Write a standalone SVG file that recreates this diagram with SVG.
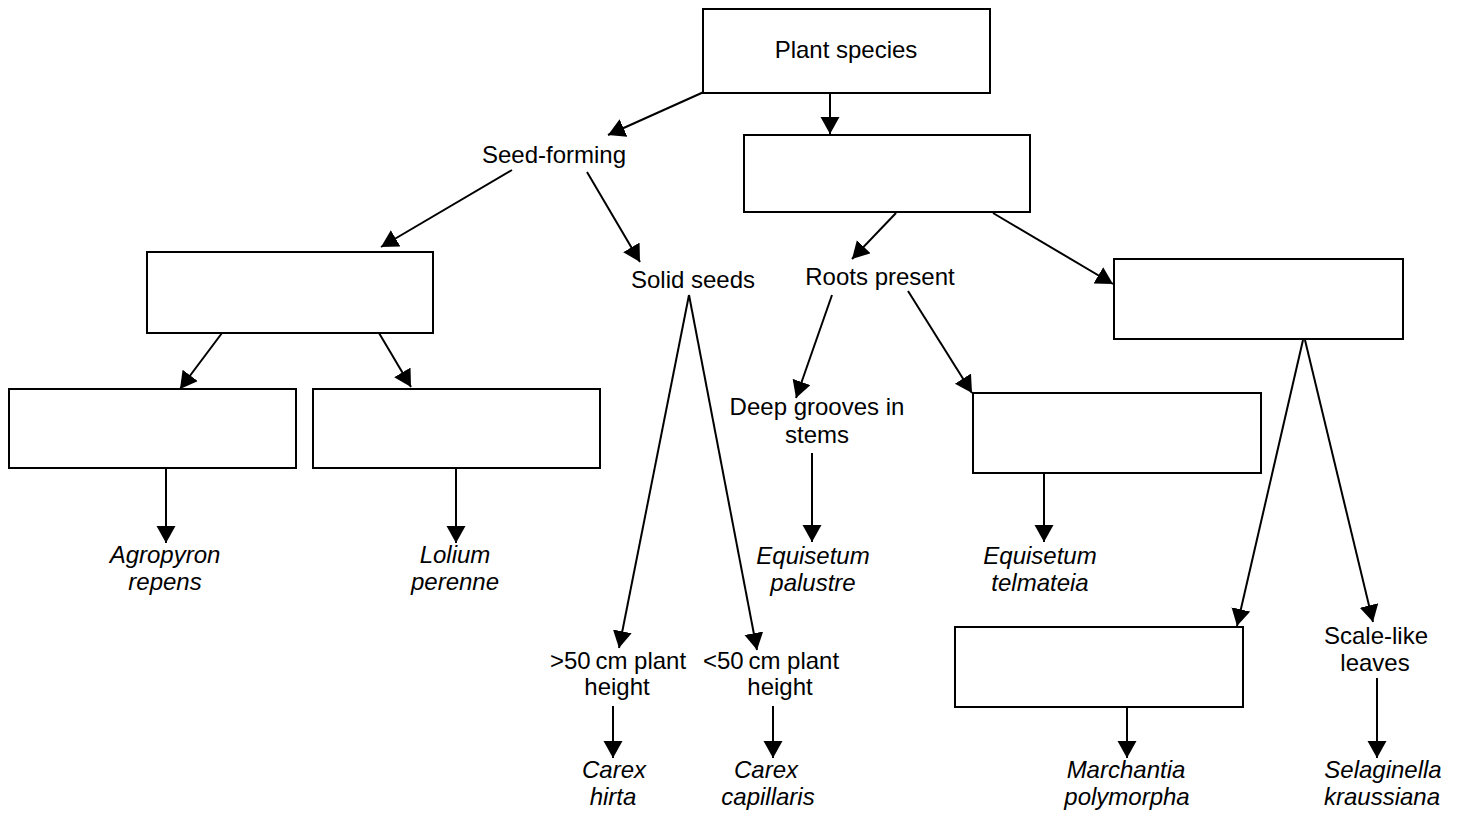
<svg xmlns="http://www.w3.org/2000/svg" width="1463" height="814" viewBox="0 0 1463 814">
<defs>
<marker id="ah" markerUnits="userSpaceOnUse" markerWidth="20" markerHeight="20" refX="17" refY="9.5" orient="auto">
<path d="M0,0 L17,9.5 L0,19 z" fill="#000"/>
</marker>
<style>
.box{fill:#fff;stroke:#000;stroke-width:2}
.t{font-family:"Liberation Sans",Arial,sans-serif;font-size:24px;fill:#000;text-anchor:middle}
.i{font-style:italic}
.c{stroke:#000;stroke-width:2;fill:none;marker-end:url(#ah)}
</style>
</defs>
<rect width="1463" height="814" fill="#fff"/>
<g id="connectors">
<line class="c" x1="706" y1="91" x2="608" y2="135"/>
<line class="c" x1="830" y1="93" x2="830" y2="134"/>
<line class="c" x1="512" y1="170" x2="381" y2="247"/>
<line class="c" x1="587" y1="172" x2="640" y2="262"/>
<line class="c" x1="222" y1="333" x2="180" y2="389"/>
<line class="c" x1="379" y1="333" x2="411" y2="387"/>
<line class="c" x1="166" y1="468" x2="166" y2="543"/>
<line class="c" x1="456" y1="468" x2="456" y2="543"/>
<line class="c" x1="689" y1="295" x2="619" y2="648"/>
<line class="c" x1="689" y1="295" x2="757" y2="650"/>
<line class="c" x1="613" y1="706" x2="613" y2="758"/>
<line class="c" x1="773" y1="706" x2="773" y2="758"/>
<line class="c" x1="896" y1="213" x2="852" y2="259"/>
<line class="c" x1="993" y1="213" x2="1113" y2="284"/>
<line class="c" x1="832" y1="295" x2="796" y2="398"/>
<line class="c" x1="908" y1="291" x2="972" y2="393"/>
<line class="c" x1="812" y1="453" x2="812" y2="542"/>
<line class="c" x1="1044" y1="473" x2="1044" y2="542"/>
<line class="c" x1="1303" y1="340" x2="1237" y2="626"/>
<line class="c" x1="1305" y1="340" x2="1373" y2="622"/>
<line class="c" x1="1127" y1="707" x2="1127" y2="758"/>
<line class="c" x1="1377" y1="678" x2="1377" y2="758"/>
</g>
<g id="n-plant"><rect class="box" x="703" y="9" width="287" height="84"/><text class="t" x="846" y="58">Plant species</text></g>
<g id="n-mid"><rect class="box" x="744" y="135" width="286" height="77"/></g>
<g id="n-seedbox"><rect class="box" x="147" y="252" width="286" height="81"/></g>
<g id="n-agrobox"><rect class="box" x="9" y="389" width="287" height="79"/></g>
<g id="n-loliumbox"><rect class="box" x="313" y="389" width="287" height="79"/></g>
<g id="n-rightbox"><rect class="box" x="1114" y="259" width="289" height="80"/></g>
<g id="n-telmbox"><rect class="box" x="973" y="393" width="288" height="80"/></g>
<g id="n-marchbox"><rect class="box" x="955" y="627" width="288" height="80"/></g>
<g id="n-seedforming"><text class="t" x="554" y="163">Seed-forming</text></g>
<g id="n-solid"><text class="t" x="693" y="288">Solid seeds</text></g>
<g id="n-roots"><text class="t" x="880" y="285">Roots present</text></g>
<g id="n-deep"><text class="t" x="817" y="415">Deep grooves in</text><text class="t" x="817" y="443">stems</text></g>
<g id="n-gt50"><text class="t" x="618" y="669">&gt;50&#8201;cm plant</text><text class="t" x="617" y="695">height</text></g>
<g id="n-lt50"><text class="t" x="771" y="669">&lt;50&#8201;cm plant</text><text class="t" x="780" y="695">height</text></g>
<g id="n-scale"><text class="t" x="1376" y="644">Scale-like</text><text class="t" x="1375" y="671">leaves</text></g>
<g id="n-agro"><text class="t i" x="165" y="563">Agropyron</text><text class="t i" x="165" y="590">repens</text></g>
<g id="n-lolium"><text class="t i" x="455" y="563">Lolium</text><text class="t i" x="455" y="590">perenne</text></g>
<g id="n-palustre"><text class="t i" x="813" y="564">Equisetum</text><text class="t i" x="813" y="591">palustre</text></g>
<g id="n-telm"><text class="t i" x="1040" y="564">Equisetum</text><text class="t i" x="1040" y="591">telmateia</text></g>
<g id="n-hirta"><text class="t i" x="614" y="778">Carex</text><text class="t i" x="613" y="805">hirta</text></g>
<g id="n-capill"><text class="t i" x="766" y="778">Carex</text><text class="t i" x="768" y="805">capillaris</text></g>
<g id="n-march"><text class="t i" x="1126" y="778">Marchantia</text><text class="t i" x="1127" y="805">polymorpha</text></g>
<g id="n-selag"><text class="t i" x="1383" y="778">Selaginella</text><text class="t i" x="1382" y="805">kraussiana</text></g>
</svg>
